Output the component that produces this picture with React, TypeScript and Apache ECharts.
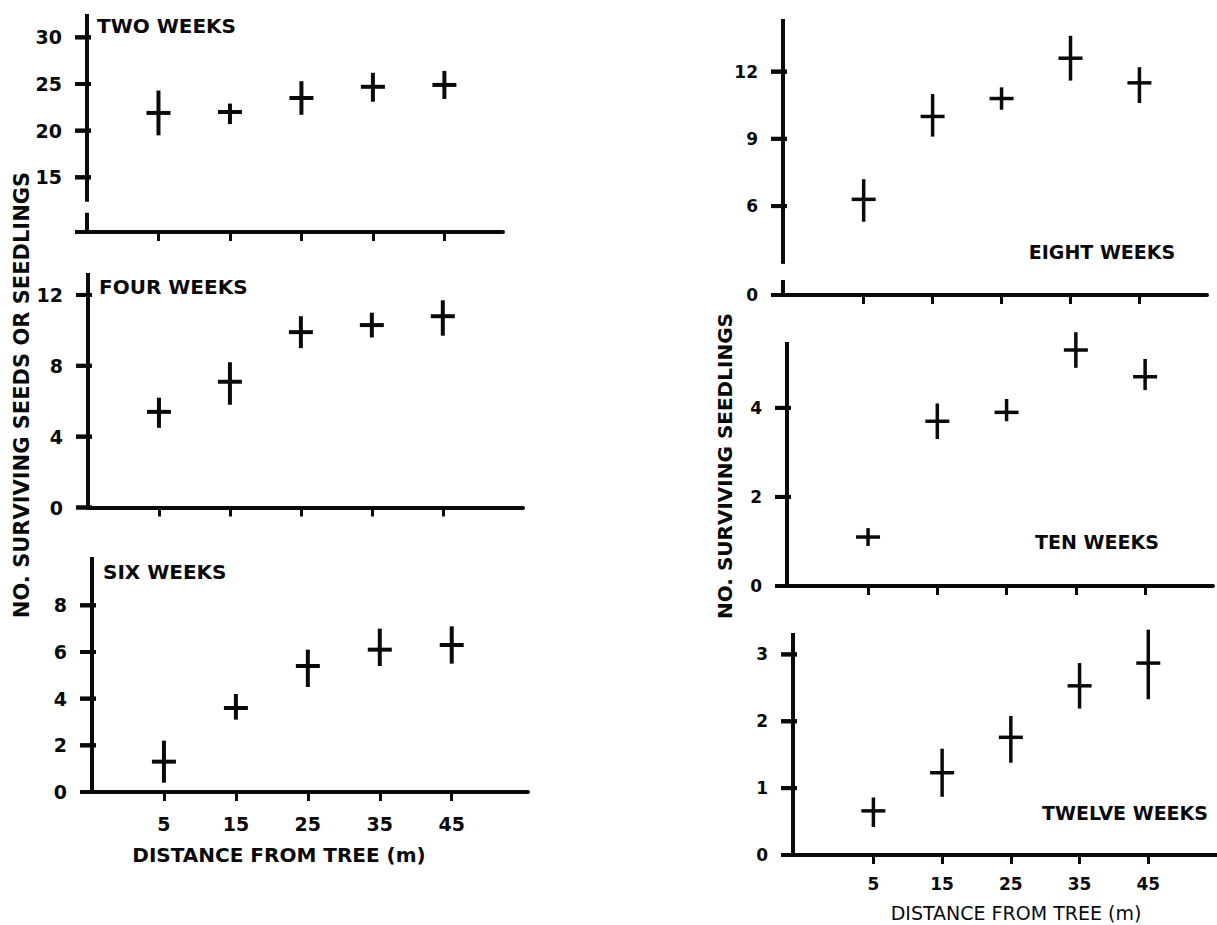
import React, { useEffect, useRef } from "react";
import * as echarts from "echarts";

// ---- data ----
const DISTANCES = [5, 15, 25, 35, 45];

const TWO_MEAN = [21.9, 22.0, 23.5, 24.7, 24.9];
const TWO_LOW = [19.5, 20.7, 21.7, 23.1, 23.4];
const TWO_HIGH = [24.3, 22.9, 25.3, 26.2, 26.4];

const FOUR_MEAN = [5.4, 7.1, 9.9, 10.3, 10.8];
const FOUR_LOW = [4.5, 5.8, 9.0, 9.6, 9.7];
const FOUR_HIGH = [6.2, 8.2, 10.8, 11.0, 11.7];

const SIX_MEAN = [1.3, 3.6, 5.4, 6.1, 6.3];
const SIX_LOW = [0.4, 3.1, 4.5, 5.4, 5.5];
const SIX_HIGH = [2.2, 4.2, 6.1, 7.0, 7.1];

const EIGHT_MEAN = [6.3, 10.0, 10.8, 12.6, 11.5];
const EIGHT_LOW = [5.3, 9.1, 10.3, 11.6, 10.6];
const EIGHT_HIGH = [7.2, 11.0, 11.3, 13.6, 12.2];

const TEN_MEAN = [1.1, 3.7, 3.9, 5.3, 4.7];
const TEN_LOW = [0.9, 3.3, 3.7, 4.9, 4.4];
const TEN_HIGH = [1.3, 4.1, 4.2, 5.7, 5.1];

const TWELVE_MEAN = [0.66, 1.23, 1.76, 2.53, 2.87];
const TWELVE_LOW = [0.42, 0.87, 1.38, 2.19, 2.33];
const TWELVE_HIGH = [0.86, 1.59, 2.08, 2.87, 3.37];

const TWO_TICKS = [15, 20, 25, 30];
const FOUR_TICKS = [0, 4, 8, 12];
const SIX_TICKS = [0, 2, 4, 6, 8];
const EIGHT_TICKS = [6, 9, 12];
const TEN_TICKS = [0, 2, 4];
const TWELVE_TICKS = [0, 1, 2, 3];

const PANEL_TITLES = ["TWO WEEKS", "FOUR WEEKS", "SIX WEEKS", "EIGHT WEEKS", "TEN WEEKS", "TWELVE WEEKS"];
const X_NAME = "DISTANCE FROM TREE (m)";
const LEFT_Y_NAME = "NO. SURVIVING SEEDS OR SEEDLINGS";
const RIGHT_Y_NAME = "NO. SURVIVING SEEDLINGS";

// broken axes: where the zero baseline sits and the gap in the axis line
const TWO_BASE = 9.14;
const TWO_GAP = [11.2, 12.6];
const EIGHT_BASE = 2.03;
const EIGHT_GAP = [2.7, 3.51];

const INK = "#0a0a0a";
const FONT = "DejaVu Sans";
const TICK_PX = 12; // outward tick length / baseline overhang

type Panel = {
  left: number; top: number; width: number; height: number;
  xmin: number; xmax: number; ymin: number; ymax: number;
  ticks: number[]; mean: number[]; low: number[]; high: number[];
  base?: number; baseLabel?: string; gap?: number[];
  showX: boolean; right: boolean;
};

// left/xmin = position & value of the vertical axis line
const PANELS: Panel[] = [
  { left: 87, top: 14, width: 416, height: 218, xmin: -5, xmax: 53.2, ymin: TWO_BASE, ymax: 32.5,
    ticks: TWO_TICKS, mean: TWO_MEAN, low: TWO_LOW, high: TWO_HIGH, base: TWO_BASE, gap: TWO_GAP, showX: false, right: false },
  { left: 88, top: 273, width: 435, height: 234.5, xmin: -5, xmax: 56.3, ymin: 0, ymax: 13.24,
    ticks: FOUR_TICKS, mean: FOUR_MEAN, low: FOUR_LOW, high: FOUR_HIGH, showX: false, right: false },
  { left: 92, top: 557, width: 436, height: 235, xmin: -5, xmax: 55.6, ymin: 0, ymax: 10.07,
    ticks: SIX_TICKS, mean: SIX_MEAN, low: SIX_LOW, high: SIX_HIGH, showX: true, right: false },
  { left: 783, top: 19, width: 424, height: 276, xmin: -6.7, xmax: 54.8, ymin: EIGHT_BASE, ymax: 14.35,
    ticks: EIGHT_TICKS, mean: EIGHT_MEAN, low: EIGHT_LOW, high: EIGHT_HIGH, base: EIGHT_BASE, baseLabel: "0", gap: EIGHT_GAP, showX: false, right: true },
  { left: 787, top: 342, width: 426, height: 244, xmin: -6.7, xmax: 54.8, ymin: 0, ymax: 5.48,
    ticks: TEN_TICKS, mean: TEN_MEAN, low: TEN_LOW, high: TEN_HIGH, showX: false, right: true },
  { left: 793, top: 633, width: 424, height: 222, xmin: -6.7, xmax: 55, ymin: 0, ymax: 3.32,
    ticks: TWELVE_TICKS, mean: TWELVE_MEAN, low: TWELVE_LOW, high: TWELVE_HIGH, showX: true, right: true },
];

const txt = (text: string, x: number, y: number, size: number, weight: string, align: string, rot = 0) => ({
  type: "text", x, y, rotation: rot, z: 10,
  style: {
    text, fill: INK, fontFamily: FONT, fontSize: size, fontWeight: weight,
    align, verticalAlign: "middle", textAlign: align, textVerticalAlign: "middle",
  },
});

const TEXT_GRAPHICS = [
  txt(PANEL_TITLES[0], 97, 26, 20, "bold", "left"),
  txt(PANEL_TITLES[1], 99, 287, 20, "bold", "left"),
  txt(PANEL_TITLES[2], 103, 572, 20, "bold", "left"),
  txt(PANEL_TITLES[3], 1102, 252, 19, "bold", "center"),
  txt(PANEL_TITLES[4], 1097, 542, 19, "bold", "center"),
  txt(PANEL_TITLES[5], 1125, 813, 19, "bold", "center"),
  txt(X_NAME, 279, 855, 20, "bold", "center"),
  txt(X_NAME, 1016, 913, 19, "normal", "center"),
  txt(LEFT_Y_NAME, 22, 395, 21, "bold", "center", Math.PI / 2),
  txt(RIGHT_Y_NAME, 725, 466, 20, "bold", "center", Math.PI / 2),
];

function buildOption() {
  const grid: any[] = [];
  const xAxis: any[] = [];
  const yAxis: any[] = [];
  const series: any[] = [];

  PANELS.forEach((p, i) => {
    grid.push({
      left: p.left, top: p.top, width: p.width, height: p.height,
      outerBoundsMode: "none", containLabel: false,
    });
    xAxis.push({
      gridIndex: i, type: "value", min: p.xmin, max: p.xmax,
      axisLine: { show: true, onZero: false, lineStyle: { color: INK, width: 4 } },
      axisTick: { show: true, length: 9, customValues: DISTANCES, lineStyle: { color: INK, width: 3 } },
      axisLabel: {
        show: p.showX, customValues: DISTANCES, margin: p.right ? 20 : 22, color: INK,
        fontFamily: FONT, fontSize: p.right ? 17 : 19, fontWeight: "bold",
      },
      splitLine: { show: false },
    });
    const labelVals = p.baseLabel ? [p.base, ...p.ticks] : p.ticks;
    yAxis.push({
      gridIndex: i, type: "value", min: p.ymin, max: p.ymax,
      axisLine: { show: false, onZero: false },
      axisTick: { show: false },
      axisLabel: {
        customValues: labelVals, margin: 25, color: INK, showMinLabel: true,
        fontFamily: FONT, fontSize: p.right ? 17 : 19, fontWeight: "bold",
        formatter: (v: number) => (p.base !== undefined && Math.abs(v - p.base) < 1e-6 ? (p.baseLabel || "") : String(v)),
      },
      splitLine: { show: false },
    });
    const lw = p.right ? 3.5 : 4;
    // error crosses
    series.push({
      type: "custom", xAxisIndex: i, yAxisIndex: i, clip: false,
      encode: { x: 0, y: [1, 2, 3] },
      data: DISTANCES.map((d, j) => [d, p.mean[j], p.low[j], p.high[j]]),
      renderItem: (_params: any, api: any) => {
        const x = api.value(0);
        const c = api.coord([x, api.value(1)]);
        const lo = api.coord([x, api.value(2)]);
        const hi = api.coord([x, api.value(3)]);
        const st = { stroke: INK, lineWidth: lw };
        return {
          type: "group",
          children: [
            { type: "line", shape: { x1: hi[0], y1: hi[1], x2: lo[0], y2: lo[1] }, style: st },
            { type: "line", shape: { x1: c[0] - 12, y1: c[1], x2: c[0] + 12, y2: c[1] }, style: st },
          ],
        };
      },
    });
    // vertical axis line (broken where needed) plus tick bars that cross the axis line
    const tickVals = [p.ymin, ...p.ticks.filter((t) => t !== p.ymin)];
    const segs = p.gap ? [[p.xmin, p.ymin, p.gap[0]], [p.xmin, p.gap[1], p.ymax]] : [[p.xmin, p.ymin, p.ymax]];
    series.push({
      type: "custom", xAxisIndex: i, yAxisIndex: i, clip: false, silent: true, z: 5,
      encode: { x: 0, y: [1, 2] },
      data: segs,
      renderItem: (_params: any, api: any) => {
        const v0 = api.value(1);
        const v1 = api.value(2);
        const a = api.coord([api.value(0), v0]);
        const b = api.coord([api.value(0), v1]);
        const children: any[] = [
          { type: "rect", shape: { x: a[0] - 2, y: b[1], width: 4, height: a[1] - b[1] + 2 }, style: { fill: INK } },
        ];
        tickVals
          .filter((t) => t >= v0 - 1e-9 && t <= v1 + 1e-9)
          .forEach((t) => {
            const c = api.coord([api.value(0), t]);
            const h = 4;
            children.push({
              type: "rect",
              shape: { x: c[0] - TICK_PX, y: c[1] - h / 2, width: TICK_PX + 4, height: h },
              style: { fill: INK },
            });
          });
        return { type: "group", children };
      },
    });
  });

  return { animation: false, backgroundColor: "#ffffff", grid, xAxis, yAxis, series, graphic: TEXT_GRAPHICS };
}

// y-axis tick bars also placed through the axes' own scale (convertToPixel) after layout
function tickGraphics(chart: echarts.ECharts) {
  const out: any[] = [];
  PANELS.forEach((p, i) => {
    const vals = [p.ymin, ...p.ticks.filter((t) => t !== p.ymin)];
    vals.forEach((t) => {
      const pt = chart.convertToPixel({ xAxisIndex: i, yAxisIndex: i } as any, [p.xmin, t]) as number[];
      if (!pt || !isFinite(pt[0]) || !isFinite(pt[1])) return;
      out.push({
        type: "rect", z: 100, silent: true,
        shape: { x: pt[0] - TICK_PX, y: pt[1] - 2, width: TICK_PX + 4, height: 4 },
        style: { fill: INK },
      });
    });
  });
  return out;
}

export default function App() {
  const ref = useRef<HTMLDivElement>(null);
  useEffect(() => {
    if (!ref.current) return;
    const chart = echarts.init(ref.current, undefined, { renderer: "svg" });
    chart.setOption(buildOption() as any);
    try {
      chart.setOption({ graphic: [...TEXT_GRAPHICS, ...tickGraphics(chart)] } as any);
    } catch (e) {
      // keep the base chart if conversion fails
    }
    return () => chart.dispose();
  }, []);
  return (
    <div
      ref={ref}
      style={{ position: "fixed", left: 0, top: 0, width: 1217, height: 925, background: "#fff" }}
    />
  );
}
